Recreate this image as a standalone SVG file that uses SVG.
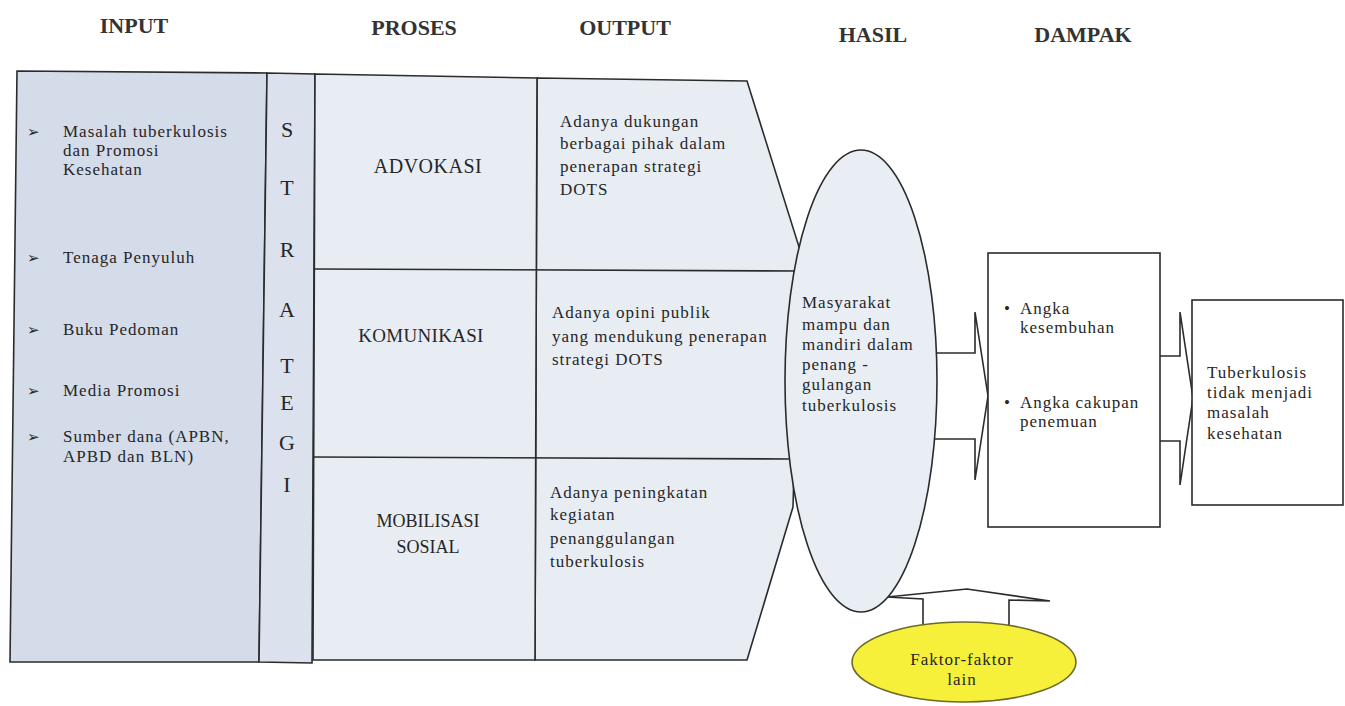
<svg xmlns="http://www.w3.org/2000/svg" width="1345" height="706" viewBox="0 0 1345 706">
<style>
  .t { font-family: "Liberation Serif", "Times New Roman", serif; font-size: 17px; letter-spacing: 1px; fill: #262626; }
  .h { font-family: "Liberation Serif", "Times New Roman", serif; font-size: 22px; font-weight: bold; fill: #333; }
  .s { font-family: "Liberation Serif", "Times New Roman", serif; font-size: 22px; fill: #262626; text-anchor: middle; }
  .p { font-family: "Liberation Serif", "Times New Roman", serif; fill: #262626; text-anchor: middle; }
  .c { text-anchor: middle; }
  .b { font-family: "DejaVu Sans", sans-serif; font-size: 15px; fill: #262626; }
  .ln { fill: none; stroke: #2b2b2b; stroke-width: 1.6; }
  .arr { fill: #ffffff; stroke: #2b2b2b; stroke-width: 1.6; stroke-linejoin: miter; }
</style>
<rect width="1345" height="706" fill="#ffffff"/>

<g id="headers">
  <text class="h c" x="134" y="33">INPUT</text>
  <text class="h c" x="414" y="35">PROSES</text>
  <text class="h c" x="625" y="35">OUTPUT</text>
  <text class="h c" x="873" y="42">HASIL</text>
  <text class="h c" x="1083" y="42">DAMPAK</text>
</g>

<g id="connectors">
  <polygon class="arr" points="915,353 975,353 975,312 988,396 975,480 975,439 915,439"/>
  <polygon class="arr" points="1150,356 1180,356 1180,312 1193,398 1180,485 1180,441 1150,441"/>
  <polygon class="arr" points="923,640 923,599 887,597 967,589 1050,601 1009,600 1009,640"/>
</g>

<g id="input">
  <polygon points="17,71 267,73 259,662 10,662" fill="#d4dbe9" stroke="#2b2b2b" stroke-width="1.6"/>
  <text class="b" x="27" y="137">➢</text>
  <text class="t" x="63" y="137">Masalah tuberkulosis</text>
  <text class="t" x="63" y="156">dan Promosi</text>
  <text class="t" x="63" y="175">Kesehatan</text>
  <text class="b" x="27" y="263">➢</text>
  <text class="t" x="63" y="263">Tenaga Penyuluh</text>
  <text class="b" x="27" y="335">➢</text>
  <text class="t" x="63" y="335">Buku Pedoman</text>
  <text class="b" x="27" y="396">➢</text>
  <text class="t" x="63" y="396">Media Promosi</text>
  <text class="b" x="27" y="442">➢</text>
  <text class="t" x="63" y="442">Sumber dana (APBN,</text>
  <text class="t" x="63" y="462">APBD dan BLN)</text>
</g>

<g id="strategi">
  <polygon points="267,73 315,74 312,663 259,662" fill="#dce2ed" stroke="#2b2b2b" stroke-width="1.6"/>
  <text class="s" x="287" y="137">S</text>
  <text class="s" x="287" y="195">T</text>
  <text class="s" x="287" y="257">R</text>
  <text class="s" x="287" y="317">A</text>
  <text class="s" x="287" y="373">T</text>
  <text class="s" x="287" y="410">E</text>
  <text class="s" x="287" y="450">G</text>
  <text class="s" x="287" y="492">I</text>
</g>

<g id="output">
  <polygon points="537,78 747,81 800,250 793,507 747,660 535,660" fill="#e8edf4" stroke="#2b2b2b" stroke-width="1.6"/>
  <text class="t" x="560" y="127">Adanya dukungan</text>
  <text class="t" x="560" y="149">berbagai pihak dalam</text>
  <text class="t" x="560" y="172">penerapan strategi</text>
  <text class="t" x="560" y="195">DOTS</text>
  <text class="t" x="552" y="318">Adanya opini publik</text>
  <text class="t" x="552" y="342">yang mendukung penerapan</text>
  <text class="t" x="552" y="365">strategi DOTS</text>
  <text class="t" x="550" y="498">Adanya peningkatan</text>
  <text class="t" x="550" y="520">kegiatan</text>
  <text class="t" x="550" y="544">penanggulangan</text>
  <text class="t" x="550" y="567">tuberkulosis</text>
</g>

<g id="proses">
  <polygon points="315,74 537,78 535,660 313,660" fill="#e8edf4" stroke="#2b2b2b" stroke-width="1.6"/>
  <line class="ln" x1="314" y1="269" x2="798" y2="271"/>
  <line class="ln" x1="313" y1="457" x2="791" y2="459"/>
  <text class="p" x="428" y="173" font-size="20" letter-spacing="0.5">ADVOKASI</text>
  <text class="p" x="421" y="342" font-size="19" letter-spacing="0.3">KOMUNIKASI</text>
  <text class="p" x="428" y="527" font-size="18">MOBILISASI</text>
  <text class="p" x="428" y="553" font-size="18">SOSIAL</text>
</g>

<g id="hasil">
  <ellipse cx="861" cy="381" rx="76" ry="231" fill="#e9eef5" stroke="#2b2b2b" stroke-width="1.6"/>
  <text class="t" x="802" y="308">Masyarakat</text>
  <text class="t" x="802" y="330">mampu dan</text>
  <text class="t" x="802" y="350">mandiri dalam</text>
  <text class="t" x="802" y="370">penang -</text>
  <text class="t" x="802" y="390">gulangan</text>
  <text class="t" x="802" y="411">tuberkulosis</text>
</g>

<g id="dampak1">
  <rect x="988" y="253" width="172" height="274" fill="#ffffff" stroke="#2b2b2b" stroke-width="1.6"/>
  <text class="t" x="1004" y="314">•</text>
  <text class="t" x="1020" y="314">Angka</text>
  <text class="t" x="1020" y="333">kesembuhan</text>
  <text class="t" x="1004" y="408">•</text>
  <text class="t" x="1020" y="408">Angka cakupan</text>
  <text class="t" x="1020" y="427">penemuan</text>
</g>

<g id="dampak2">
  <rect x="1192" y="300" width="151" height="205" fill="#ffffff" stroke="#2b2b2b" stroke-width="1.6"/>
  <text class="t" x="1207" y="378">Tuberkulosis</text>
  <text class="t" x="1207" y="398">tidak menjadi</text>
  <text class="t" x="1207" y="418">masalah</text>
  <text class="t" x="1207" y="439">kesehatan</text>
</g>

<g id="faktor">
  <ellipse cx="964" cy="662" rx="112" ry="40" fill="#f6f03a" stroke="#6b6a2a" stroke-width="1.6"/>
  <text class="t c" x="962" y="665">Faktor-faktor</text>
  <text class="t c" x="962" y="685">lain</text>
</g>
</svg>
